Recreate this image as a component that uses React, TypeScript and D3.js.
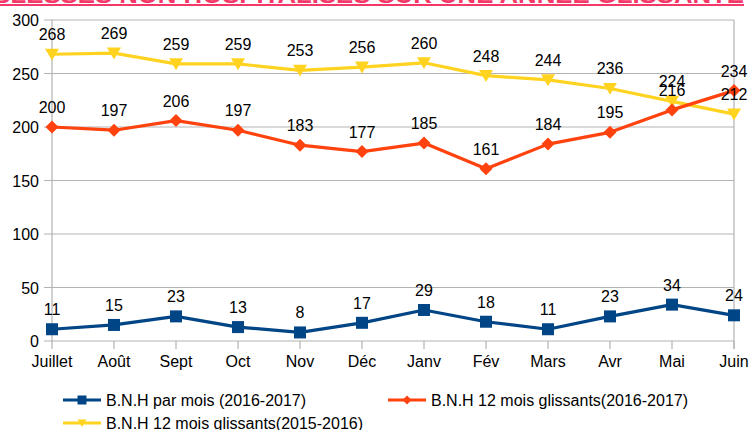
import { useEffect, useRef } from 'react';
import * as d3 from 'd3';

const months = ['Juillet', 'Août', 'Sept', 'Oct', 'Nov', 'Déc', 'Janv', 'Fév', 'Mars', 'Avr', 'Mai', 'Juin'];
const parMois = [11, 15, 23, 13, 8, 17, 29, 18, 11, 23, 34, 24];
const glissants1617 = [200, 197, 206, 197, 183, 177, 185, 161, 184, 195, 216, 234];
const glissants1516 = [268, 269, 259, 259, 253, 256, 260, 248, 244, 236, 224, 212];
const yTicks = [0, 50, 100, 150, 200, 250, 300];

const title = 'BLESSÉS NON HOSPITALISÉS SUR UNE ANNÉE GLISSANTE';

type Marker = 'square' | 'diamond' | 'triangle';
const series: { name: string; values: number[]; color: string; marker: Marker }[] = [
  { name: 'B.N.H 12 mois glissants(2015-2016)', values: glissants1516, color: '#ffd320', marker: 'triangle' },
  { name: 'B.N.H 12 mois glissants(2016-2017)', values: glissants1617, color: '#ff420e', marker: 'diamond' },
  { name: 'B.N.H par mois (2016-2017)', values: parMois, color: '#004586', marker: 'square' },
];

const symbolPath = (m: Marker, s: number) => {
  if (m === 'square') return `M${-s / 2},${-s / 2}h${s}v${s}h${-s}Z`;
  if (m === 'diamond') return `M0,${-s / 2}L${s / 2},0L0,${s / 2}L${-s / 2},0Z`;
  return `M${-s / 2},${-s * 0.4}L${s / 2},${-s * 0.4}L0,${s * 0.45}Z`;
};

export default function App() {
  const ref = useRef<SVGSVGElement>(null);
  const width = 749;
  const height = 430;

  useEffect(() => {
    if (!ref.current) return;
    const svg = d3.select(ref.current);
    svg.selectAll('*').remove();
    const font = '"Liberation Sans", Arial, sans-serif';

    // title, cut off at the top like the source
    svg
      .append('text')
      .attr('x', -8)
      .attr('y', 3)
      .attr('textLength', 752)
      .attr('lengthAdjust', 'spacingAndGlyphs')
      .attr('font-family', font)
      .attr('font-weight', 'bold')
      .attr('font-size', 24)
      .attr('fill', '#f5386a')
      .text(title);
    svg.append('rect').attr('x', 0).attr('y', 4).attr('width', 744).attr('height', 2).attr('fill', '#f5386a');

    const x = d3.scalePoint<string>().domain(months).range([52, 734]);
    const y = d3.scaleLinear().domain([0, 300]).range([341, 20]);

    const grid = svg.append('g').attr('stroke', '#b3b3b3').attr('stroke-width', 1.2);
    yTicks.forEach((t) => {
      grid.append('line').attr('x1', 44).attr('x2', 734).attr('y1', y(t)).attr('y2', y(t));
    });
    grid.append('line').attr('x1', 52).attr('x2', 52).attr('y1', y(300)).attr('y2', y(0));
    grid.append('line').attr('x1', 734).attr('x2', 734).attr('y1', y(300)).attr('y2', y(0) + 8);
    months.forEach((m) => {
      grid.append('line').attr('x1', x(m)!).attr('x2', x(m)!).attr('y1', y(0)).attr('y2', y(0) + 8);
    });

    svg
      .append('g')
      .selectAll('text')
      .data(yTicks)
      .join('text')
      .attr('x', 39)
      .attr('y', (d) => y(d) + 6)
      .attr('text-anchor', 'end')
      .attr('font-family', font)
      .attr('font-size', 16)
      .attr('fill', '#000')
      .text((d) => d);

    svg
      .append('g')
      .selectAll('text')
      .data(months)
      .join('text')
      .attr('x', (d) => x(d)!)
      .attr('y', 367)
      .attr('text-anchor', 'middle')
      .attr('font-family', font)
      .attr('font-size', 16)
      .attr('fill', '#000')
      .text((d) => d);

    series.forEach((s) => {
      const line = d3
        .line<number>()
        .x((_, i) => x(months[i])!)
        .y((d) => y(d));
      const g = svg.append('g');
      g.append('path')
        .datum(s.values)
        .attr('fill', 'none')
        .attr('stroke', s.color)
        .attr('stroke-width', 3.2)
        .attr('stroke-linejoin', 'round')
        .attr('d', line);
      const size = s.marker === 'square' ? 12 : s.marker === 'diamond' ? 13 : 14;
      g.selectAll('path.m')
        .data(s.values)
        .join('path')
        .attr('class', 'm')
        .attr('transform', (d, i) => `translate(${x(months[i])},${y(d)})`)
        .attr('d', symbolPath(s.marker, size))
        .attr('fill', s.color);
    });

    series.forEach((s) => {
      svg
        .append('g')
        .selectAll('text')
        .data(s.values)
        .join('text')
        .attr('x', (_, i) => x(months[i])!)
        .attr('y', (d) => y(d) - 14)
        .attr('text-anchor', 'middle')
        .attr('font-family', font)
        .attr('font-size', 16)
        .attr('fill', '#000')
        .text((d) => d);
    });

    // legend
    const legend = [
      { s: series[2], lx: 63, ly: 400 },
      { s: series[1], lx: 388, ly: 400 },
      { s: series[0], lx: 63, ly: 423 },
    ];
    legend.forEach(({ s, lx, ly }) => {
      const g = svg.append('g');
      g.append('line')
        .attr('x1', lx)
        .attr('x2', lx + 38)
        .attr('y1', ly)
        .attr('y2', ly)
        .attr('stroke', s.color)
        .attr('stroke-width', 3.2);
      g.append('path')
        .attr('transform', `translate(${lx + 19},${ly})`)
        .attr('d', symbolPath(s.marker, 9))
        .attr('fill', s.color);
      g.append('text')
        .attr('x', lx + 43)
        .attr('y', ly + 6)
        .attr('font-family', font)
        .attr('font-size', 16)
        .attr('fill', '#000')
        .text(s.name);
    });
  }, []);

  return (
    <svg
      ref={ref}
      width={width}
      height={height}
      style={{ position: 'absolute', left: 0, top: 0, background: '#fff' }}
    />
  );
}
